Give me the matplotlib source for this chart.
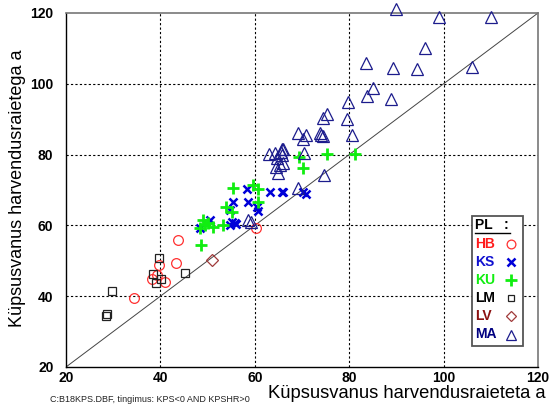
#!/usr/bin/env python3
"""Küpsusvanus harvendusraietega vs. harvendusraieteta, puuliigiti"""

import matplotlib
matplotlib.use("Agg")
import matplotlib.pyplot as plt
from matplotlib.patches import Rectangle
from matplotlib.lines import Line2D

plt.rcParams["font.family"] = ["Liberation Sans", "DejaVu Sans"]

# puuliik -> (küpsusvanus ilma harvendusteta, küpsusvanus harvendustega)
hb_x = [60.3, 43.8, 39.6, 43.3, 38.2, 39.2, 41.0, 34.5]
hb_y = [59.2, 55.9, 48.8, 49.3, 45.0, 46.0, 44.1, 39.4]

ks_x = [58.3, 63.2, 65.7, 55.4, 58.6, 54.7, 60.4, 60.7, 50.5, 48.4, 55.1,
        55.8, 54.7, 65.9, 70.3, 70.8, 56.0]
ks_y = [70.2, 69.5, 69.5, 66.7, 66.7, 64.3, 65.3, 64.2, 61.5, 59.2, 61.0,
        60.8, 60.1, 69.5, 69.5, 69.0, 60.3]

ku_x = [69.4, 75.2, 81.2, 70.3, 55.4, 59.7, 60.7, 54.0, 55.1, 60.7, 49.1,
        50.1, 51.2, 53.3, 48.4, 48.6, 49.4]
ku_y = [79.4, 80.2, 80.2, 76.1, 70.6, 71.4, 70.2, 65.3, 63.9, 66.7, 61.5,
        60.6, 59.6, 60.1, 59.2, 54.6, 60.1]

lm_x = [39.8, 45.2, 38.4, 40.1, 39.1, 29.8, 28.5, 28.6]
lm_y = [50.7, 46.6, 46.4, 44.8, 43.6, 41.5, 34.4, 34.9]

lv_x = [51.0]
lv_y = [50.2]

ma_x = [90.0, 99.0, 110.0, 96.0, 83.5, 89.3, 94.4, 106.0, 85.1, 83.8, 88.9,
        79.8, 79.5, 75.4, 74.5, 69.2, 70.8, 70.3, 73.8, 74.1, 74.4, 80.5,
        65.9, 65.6, 70.5, 74.7, 69.2, 63.0, 64.3, 65.7, 64.6, 65.7, 65.3,
        64.4, 65.0, 66.0, 58.6, 59.3]
ma_y = [121.0, 119.0, 119.0, 110.0, 106.0, 104.4, 104.1, 104.8, 98.8, 96.6,
        95.7, 94.9, 90.0, 91.6, 90.2, 86.0, 85.5, 84.3, 86.0, 85.6, 85.2,
        85.6, 81.7, 80.6, 80.5, 74.2, 70.5, 80.2, 80.4, 81.7, 78.9, 79.9,
        77.1, 76.4, 74.7, 77.5, 61.5, 61.0]

species = ["HB", "KS", "KU", "LM", "LV", "MA"]
label_colors = ["#ff1a1a", "#1010d0", "#11ee11", "#000000", "#8b1010", "#000080"]
styles = [
    dict(marker="o", ms=7, mfc="none", mec="#ff3030", mew=0.9),
    dict(marker="x", ms=6, mec="#0000d8", mew=1.8),
    dict(marker="+", ms=9, mec="#11ee11", mew=2.0),
    dict(marker="s", ms=5.5, mfc="none", mec="#222222", mew=0.9),
    dict(marker="D", ms=6, mfc="none", mec="#a03a3a", mew=0.9),
    dict(marker="^", ms=8, mfc="none", mec="#1c1c8c", mew=0.9),
]
series = [(hb_x, hb_y), (ks_x, ks_y), (ku_x, ku_y), (lm_x, lm_y),
          (lv_x, lv_y), (ma_x, ma_y)]

fig = plt.figure(figsize=(5.53, 4.05), dpi=100)
ax = fig.add_axes([66 / 553, 38 / 405, 472 / 553, 354 / 405])

ax.set_xlim(20, 120)
ax.set_ylim(20, 120)
ax.set_xticks([20, 40, 60, 80, 100, 120])
ax.set_yticks([20, 40, 60, 80, 100, 120])
ax.tick_params(length=0, labelsize=10)
ax.tick_params(axis="x", pad=3)
ax.tick_params(axis="y", pad=9)
for lab in ax.get_xticklabels() + ax.get_yticklabels():
    lab.set_fontweight("bold")

for v in [40, 60, 80, 100]:
    ax.axvline(v, color="#000000", lw=0.8, ls=(0, (2, 2)), zorder=1)
    ax.axhline(v, color="#000000", lw=0.8, ls=(0, (2, 2)), zorder=1)

ax.plot([20, 120], [20, 120], color="#444444", lw=0.7, zorder=2)

for (xs, ys), st in zip(series, styles):
    ax.plot(xs, ys, ls="none", clip_on=False, zorder=3, **st)

for side in ["left", "bottom"]:
    ax.spines[side].set_color("#000000")
    ax.spines[side].set_linewidth(1.0)
for side in ["top", "right"]:
    ax.spines[side].set_color("#777777")
    ax.spines[side].set_linewidth(1.2)


# legend box drawn in figure pixel units
def fx(px):
    return px / 553


def fy(py):
    return 1 - py / 405


fig.patches.append(Rectangle((fx(472), fy(346)), fx(523) - fx(472),
                             fy(216) - fy(346), transform=fig.transFigure,
                             facecolor="white", edgecolor="#555555", lw=1.3,
                             zorder=5))
fig.text(fx(475), fy(225), "PL   :", fontsize=10, fontweight="bold",
         color="black", va="center", ha="left", zorder=6)
fig.lines.append(Line2D([fx(475), fx(510)], [fy(233), fy(233)],
                        transform=fig.transFigure, color="black", lw=1.0,
                        zorder=6))
for i, (name, col, st) in enumerate(zip(species, label_colors, styles)):
    yy = 244 + i * 18.1
    fig.text(fx(475), fy(yy), name, fontsize=10, fontweight="bold", color=col,
             va="center", ha="left", zorder=6)
    leg_st = dict(st)
    leg_st["ms"] = st["ms"] * 0.9
    fig.lines.append(Line2D([fx(511)], [fy(yy)], transform=fig.transFigure,
                            ls="none", zorder=6, **leg_st))

fig.text(18 / 553, fy(188), "Küpsusvanus harvendusraietega a", rotation=90,
         fontsize=13, ha="center", va="center")
fig.text(546 / 553, fy(398.5), "Küpsusvanus harvendusraieteta a",
         fontsize=13.2, ha="right", va="baseline")
fig.text(50 / 553, fy(400), "C:B18KPS.DBF, tingimus: KPS<0 AND KPSHR>0",
         fontsize=6.5, ha="left", va="center", color="#222222")

fig.savefig("out.png", dpi=100)
